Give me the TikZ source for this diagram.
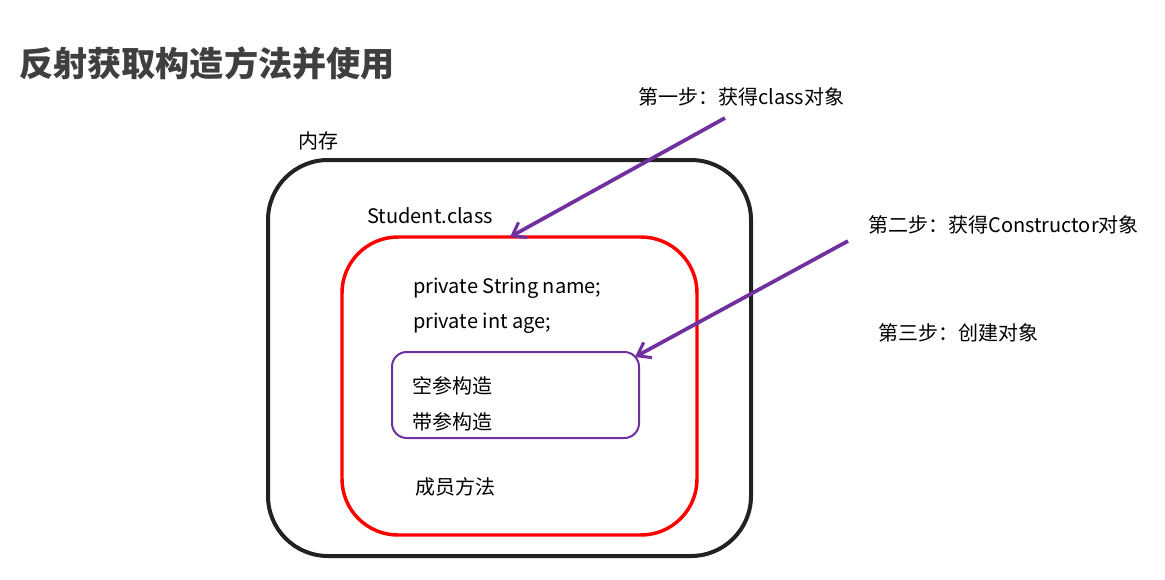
\documentclass[tikz,border=0pt]{standalone}
\usepackage{fontspec}
\setmainfont{Noto Sans CJK SC}
\usetikzlibrary{arrows.meta}
\definecolor{arrowpurple}{HTML}{7030A0}
\definecolor{boxblack}{HTML}{222222}
\definecolor{titlegray}{HTML}{3F3F3F}
\tikzset{lbl/.style={anchor=west,inner sep=0pt,font=\fontsize{15}{18}\selectfont},
  steparrow/.style={arrowpurple,line width=2.8pt,-{Straight Barb[length=9pt,width=13pt,line width=2.3pt]}}}

\begin{document}
\begin{tikzpicture}[x=0.75pt,y=-0.75pt]
  \useasboundingbox (0,0) rectangle (1165,579);
  % title
  \node[anchor=west,inner sep=0pt,text=titlegray,font=\fontsize{25.6}{30}\bfseries\selectfont] (title) at (19,63) {反射获取构造方法并使用};
  % boxes
  \draw[boxblack,line width=3pt,rounded corners=45pt] (268,160) rectangle (751,556);
  \draw[red,line width=2.6pt,rounded corners=42pt] (342,237) rectangle (697,535);
  \draw[arrowpurple,line width=1.5pt,rounded corners=11pt] (392,352) rectangle (639,438);
  \coordinate (redtop) at (510,237); \coordinate (ctorbox) at (635,357);
  % labels
  \node[lbl] (mem) at (298,141) {内存};
  \node[lbl] (cls) at (367,216) {Student.class};
  \node[lbl] (fname) at (413,288) {private String name;};
  \node[lbl] (fage) at (413,323) {private int age;};
  \node[lbl] (ctor0) at (412,386) {空参构造};
  \node[lbl] (ctor1) at (412,422) {带参构造};
  \node[lbl] (meth) at (415,487) {成员方法};
  \node[lbl] (step1) at (638,97) {第一步：获得class对象};
  \node[lbl] (step2) at (868,225) {第二步：获得Constructor对象};
  \node[lbl] (step3) at (878,333) {第三步：创建对象};
  % arrows
  \coordinate (s1) at (725,118); \coordinate (s2) at (848,241);
  \draw[steparrow] (s1) -- (redtop); \draw[steparrow] (s2) -- (ctorbox);
\end{tikzpicture}
\end{document}
